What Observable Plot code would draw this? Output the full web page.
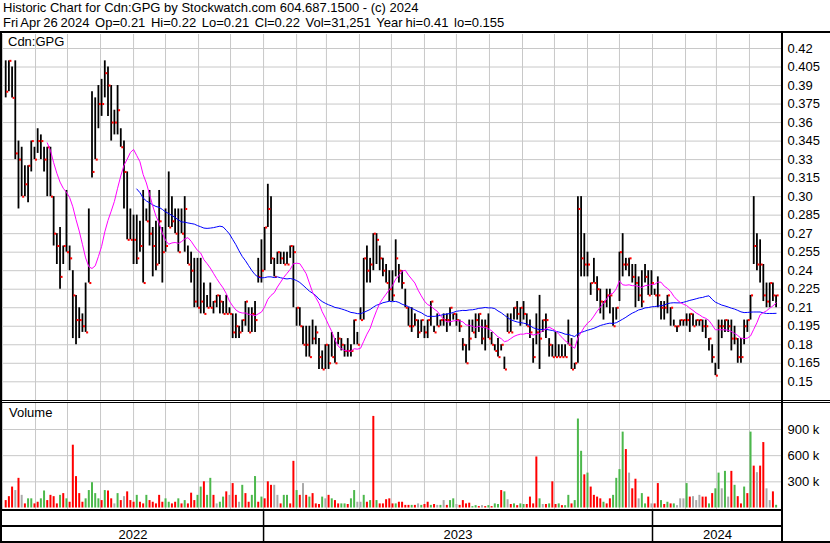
<!DOCTYPE html>
<html><head><meta charset="utf-8">
<script src="https://cdn.jsdelivr.net/npm/d3@7"></script>
<script src="https://cdn.jsdelivr.net/npm/@observablehq/plot@0.6"></script>
<style>
body{margin:0;background:#fff;font-family:"Liberation Sans",Arial,sans-serif;}
#wrap{position:relative;width:830px;height:543px;overflow:hidden;background:#fff}
.ln{position:absolute;background:#000}
.txt{position:absolute;font-size:13px;color:#000;white-space:pre;line-height:15px}
.sub{word-spacing:-0.8px}
.pl{position:absolute;left:0}
.pl svg{display:block;overflow:visible}
</style></head>
<body><div id="wrap"></div>
<script>
const title = "Historic Chart for Cdn:GPG by Stockwatch.com 604.687.1500 - (c) 2024";
const subtitle = "Fri Apr 26 2024  Op=0.21  Hi=0.22  Lo=0.21  Cl=0.22  Vol=31,251  Year hi=0.41  lo=0.155";
const symbolLabel = "Cdn:GPG";
const volumeLabel = "Volume";
const lastDate = "2024-04-26";
const stepDays = 3;
const high = [.41,.41,.405,.41,.345,.34,.325,.325,.345,.34,
 .355,.35,.34,.34,.34,.30,.27,.275,.26,.305,
 .26,.24,.22,.21,.205,.23,.29,.385,.38,.39,
 .395,.41,.405,.39,.37,.39,.355,.345,.32,.29,
 .285,.285,.28,.305,.29,.305,.275,.28,.305,.275,
 .29,.32,.30,.29,.29,.29,.30,.26,.255,.25,
 .25,.25,.23,.22,.23,.215,.22,.22,.215,.22,
 .21,.205,.205,.195,.20,.215,.21,.21,.215,.25,
 .265,.275,.31,.30,.25,.255,.255,.255,.255,.26,
 .26,.21,.21,.195,.195,.195,.20,.195,.185,.175,
 .18,.18,.19,.185,.19,.185,.18,.185,.18,.20,
 .19,.21,.25,.26,.25,.27,.27,.26,.25,.245,
 .24,.24,.265,.245,.24,.225,.21,.21,.205,.20,
 .20,.195,.20,.215,.195,.205,.20,.205,.205,.21,
 .205,.205,.20,.185,.18,.20,.20,.205,.205,.20,
 .20,.205,.19,.18,.185,.18,.17,.205,.205,.21,
 .215,.21,.215,.205,.20,.185,.205,.22,.20,.205,
 .185,.18,.19,.18,.18,.18,.20,.185,.165,.30,
 .30,.27,.255,.23,.25,.235,.225,.215,.225,.225,
 .21,.21,.255,.27,.25,.25,.245,.245,.235,.24,
 .245,.24,.24,.225,.235,.215,.215,.22,.21,.20,
 .195,.20,.20,.205,.205,.205,.20,.20,.20,.20,
 .185,.18,.165,.20,.20,.20,.20,.20,.195,.185,
 .185,.20,.20,.22,.30,.27,.265,.245,.23,.23,
 .23,.22];
const low = [.38,.385,.38,.33,.29,.30,.30,.295,.32,.33,
 .335,.33,.32,.30,.30,.26,.245,.225,.245,.255,
 .24,.185,.18,.185,.19,.19,.23,.315,.33,.355,
 .365,.38,.365,.345,.35,.35,.34,.29,.265,.265,
 .245,.245,.255,.23,.28,.26,.235,.24,.245,.23,
 .255,.275,.275,.27,.255,.27,.255,.245,.23,.21,
 .21,.205,.205,.21,.21,.205,.21,.205,.205,.205,
 .205,.185,.185,.185,.19,.195,.19,.19,.19,.23,
 .23,.24,.275,.245,.235,.245,.245,.245,.245,.25,
 .21,.195,.195,.18,.17,.17,.18,.18,.16,.16,
 .16,.16,.17,.165,.18,.175,.17,.17,.17,.18,
 .18,.20,.20,.23,.23,.24,.245,.24,.235,.23,
 .215,.215,.235,.23,.225,.21,.195,.19,.195,.185,
 .19,.185,.185,.195,.19,.195,.195,.195,.19,.195,
 .20,.195,.19,.175,.165,.175,.19,.185,.19,.18,
 .175,.185,.18,.175,.17,.175,.16,.19,.19,.20,
 .20,.195,.20,.195,.185,.165,.18,.16,.19,.185,
 .17,.17,.17,.17,.17,.17,.18,.16,.16,.165,
 .235,.235,.235,.22,.23,.215,.205,.20,.21,.205,
 .195,.20,.215,.235,.24,.235,.23,.21,.215,.21,
 .23,.22,.22,.22,.21,.20,.20,.205,.195,.195,
 .19,.195,.195,.195,.19,.195,.195,.195,.19,.185,
 .175,.165,.155,.16,.185,.19,.19,.175,.18,.165,
 .165,.18,.19,.20,.245,.24,.23,.215,.21,.21,
 .215,.21];
const close = [.385,.41,.38,.335,.33,.30,.31,.325,.345,.33,
 .345,.345,.33,.34,.30,.27,.26,.235,.26,.255,
 .25,.22,.20,.20,.195,.19,.23,.32,.33,.375,
 .375,.40,.39,.36,.36,.37,.34,.32,.265,.265,
 .265,.25,.26,.23,.28,.27,.26,.245,.28,.255,
 .26,.275,.28,.27,.255,.27,.29,.245,.24,.215,
 .21,.215,.205,.21,.21,.215,.22,.215,.205,.205,
 .205,.19,.195,.19,.20,.215,.19,.205,.20,.235,
 .24,.275,.29,.25,.235,.255,.25,.245,.245,.26,
 .255,.21,.195,.18,.18,.17,.185,.19,.17,.16,
 .18,.165,.17,.165,.185,.18,.175,.175,.175,.20,
 .18,.20,.25,.24,.245,.27,.265,.25,.24,.23,
 .225,.22,.25,.24,.23,.21,.195,.195,.20,.19,
 .20,.19,.20,.215,.19,.195,.20,.20,.20,.21,
 .205,.20,.195,.18,.165,.185,.19,.20,.205,.185,
 .195,.185,.18,.175,.17,.18,.16,.19,.19,.21,
 .205,.21,.205,.195,.19,.17,.19,.185,.20,.20,
 .18,.17,.17,.17,.17,.17,.18,.16,.165,.29,
 .25,.245,.245,.23,.23,.225,.215,.215,.22,.22,
 .195,.21,.255,.245,.245,.25,.235,.23,.22,.215,
 .235,.22,.23,.22,.22,.21,.21,.22,.21,.195,
 .195,.20,.20,.20,.205,.195,.20,.20,.195,.195,
 .185,.17,.155,.195,.195,.20,.195,.185,.185,.17,
 .17,.195,.20,.22,.26,.245,.245,.22,.215,.23,
 .22,.22];
// volume in thousands of shares
const volumeK = [85,130,240,200,340,145,47,105,105,47,
 66,105,195,85,145,130,47,145,165,105,
 66,720,360,165,66,105,200,290,165,105,
 85,200,195,105,47,165,85,130,185,85,
 66,145,66,47,145,85,66,47,145,66,
 105,66,47,66,105,47,85,47,170,85,
 145,240,300,145,340,145,47,66,125,185,
 145,280,145,66,260,165,66,145,360,66,
 125,105,300,260,260,145,47,145,145,47,
 535,200,145,280,145,125,165,47,40,125,
 105,145,105,85,47,47,47,40,105,200,
 66,66,145,66,85,1050,85,47,47,95,
 105,47,47,66,66,30,30,30,30,47,
 30,40,66,30,40,30,30,85,30,85,
 105,40,30,85,47,55,16,27,16,27,
 16,27,16,47,40,200,185,95,40,47,
 27,47,40,40,125,47,585,105,40,40,
 47,300,40,47,27,27,145,47,85,1020,
 650,380,400,240,145,125,105,66,47,105,
 145,340,440,870,670,400,220,330,105,165,
 47,125,47,47,280,85,40,66,47,47,
 27,105,105,280,125,130,85,145,125,125,
 47,165,220,400,220,420,125,420,260,130,
 47,240,165,870,480,405,480,750,220,85,
 185,31];
// u = close up (green), d = close down (red), n = unchanged (grey)
const direction = ("d,d,d,n,d,n,d,u,u,d,d,u,u,d,d,d,d,u,d,u,d,d,d,d,d,u,u,u,u,u,"+
 "d,u,d,d,n,u,d,n,d,d,d,u,d,d,u,d,d,d,d,d,u,u,d,d,u,d,u,d,d,d,"+
 "u,u,d,u,u,d,n,u,u,d,n,d,d,n,u,d,d,u,u,d,u,d,d,d,n,n,d,u,u,d,"+
 "d,u,d,n,d,u,d,d,d,u,n,d,u,d,d,u,u,d,u,u,n,n,u,d,u,d,u,d,d,d,"+
 "d,d,u,d,d,d,d,u,d,n,u,d,d,u,d,n,u,n,d,u,u,n,d,d,d,d,u,u,d,n,"+
 "d,u,d,u,u,d,u,n,d,u,d,u,u,d,d,d,d,u,n,d,u,d,d,u,d,u,u,d,u,u,"+
 "u,d,u,d,d,d,d,u,d,d,u,u,u,u,d,n,d,d,n,u,u,d,n,d,d,u,d,u,d,u,"+
 "n,n,n,u,d,n,n,n,d,d,u,d,u,u,n,u,n,d,u,d,d,u,d,u,d,n,d,d,n,n,d,u").split(",");
const priceTicks = [0.42,0.405,0.39,0.375,0.36,0.345,0.33,0.315,0.30,0.285,0.27,0.255,0.24,0.225,0.21,0.195,0.18,0.165,0.15];
const priceTickLabels = ["0.42","0.405","0.39","0.375","0.36","0.345","0.33","0.315","0.30","0.285","0.27","0.255","0.24","0.225","0.21","0.195","0.18","0.165","0.15"];
const volumeTicks = [300000,600000,900000];
const volumeTickLabels = ["300 k","600 k","900 k"];
const years = ["2022","2023","2024"];

const N = close.length;
const end = new Date(lastDate + "T00:00:00Z");
const bars = close.map((c, i) => ({
  date: d3.utcDay.offset(end, -stepDays * (N - 1 - i)),
  high: high[i], low: low[i], close: c,
  volume: volumeK[i] * 1000, dir: direction[i]
}));

const FONT = '"Liberation Sans", Arial, sans-serif';
const xDomain = [new Date("2022-05-01T00:00:00Z"), new Date("2024-05-02T00:00:00Z")];
const months = d3.utcMonths(xDomain[0], xDomain[1]);
const GRID = "#c8c8c8";
const common = {width: 830, marginLeft: 2, marginRight: 48, marginTop: 0, marginBottom: 0,
  x: {type: "utc", domain: xDomain, axis: null},
  style: {fontFamily: FONT, fontSize: "13px", color: "#000", background: "transparent", overflow: "visible"}};

const pLab = new Map(priceTicks.map((t, i) => [t, priceTickLabels[i]]));
const price = Plot.plot({
  ...common, height: 367,
  y: {domain: [0.13404, 0.43134], axis: null},
  marks: [
    Plot.ruleX(months, {stroke: GRID, strokeOpacity: 1}),
    Plot.ruleY(priceTicks, {stroke: GRID, strokeOpacity: 1}),
    Plot.ruleX(bars, {x: "date", y1: "low", y2: "high", stroke: "#000", strokeWidth: 1.8}),
    Plot.dot(bars, {x: "date", y: "close", symbol: "square", r: 1.15, fill: "#ff0000", stroke: "none", dx: 1.5}),
    Plot.lineY(bars, Plot.windowY({k: 42, anchor: "end", strict: true}, {x: "date", y: "close", stroke: "#0000ff", strokeWidth: 1})),
    Plot.lineY(bars, Plot.windowY({k: 14, anchor: "end", strict: true}, {x: "date", y: "close", stroke: "#ff00ff", strokeWidth: 1})),
    Plot.axisY(priceTicks, {anchor: "right", label: null, tickSize: 0, tickPadding: 5, tickFormat: d => pLab.get(d), fontSize: 13})
  ]
});

const vLab = new Map(volumeTicks.map((t, i) => [t, volumeTickLabels[i]]));
const vol = Plot.plot({
  ...common, height: 106,
  y: {domain: [-17200, 1198000], axis: null},
  color: {domain: ["u", "d", "n"], range: ["#4cb84c", "#ff0000", "#aaaaaa"]},
  marks: [
    Plot.ruleX(months, {stroke: GRID, strokeOpacity: 1}),
    Plot.ruleY(volumeTicks, {stroke: GRID, strokeOpacity: 1}),
    Plot.ruleX(bars, {x: "date", y1: 0, y2: "volume", stroke: "dir", strokeWidth: 2}),
    Plot.axisY(volumeTicks, {anchor: "right", label: null, tickSize: 0, tickPadding: 5, tickFormat: d => vLab.get(d), fontSize: 13})
  ]
});

const yearData = years.map(y => {
  const s = new Date(y + "-01-01T00:00:00Z"), e = new Date((+y + 1) + "-01-01T00:00:00Z");
  const a = Math.max(+s, +xDomain[0]), b = Math.min(+e, +xDomain[1]);
  return {year: y, mid: new Date((a + b) / 2)};
});
const band = Plot.plot({
  ...common, height: 33,
  y: {domain: [0, 1], axis: null},
  marks: [
    Plot.ruleX(d3.utcYears(xDomain[0], xDomain[1]), {stroke: "#000", strokeWidth: 1.5}),
    Plot.text(yearData, {x: "mid", text: "year", frameAnchor: "top", lineAnchor: "middle", dy: 24, fontSize: 13, fill: "#000"})
  ]
});

const wrap = document.getElementById("wrap");
function place(node, top) { const d = document.createElement("div"); d.className = "pl"; d.style.top = top + "px"; d.appendChild(node); wrap.appendChild(d); }
place(price, 34);
place(vol, 403);
place(band, 510);
function line(x, y, w, h) { const d = document.createElement("div"); d.className = "ln"; Object.assign(d.style, {left: x + "px", top: y + "px", width: w + "px", height: h + "px"}); wrap.appendChild(d); }
function txt(s, x, y, cls) { const d = document.createElement("div"); d.className = "txt" + (cls ? " " + cls : ""); d.textContent = s; d.style.left = x + "px"; d.style.top = y + "px"; wrap.appendChild(d); }
line(0, 31, 830, 2);
line(0, 400, 830, 1);
line(0, 402, 830, 1);
line(0, 509, 783, 2);
line(0, 525, 783, 2);
line(0, 541, 830, 2);
line(0, 31, 2, 512);
line(781, 31, 2, 512);
txt(title, 3, 0);
txt(subtitle, 3, 15, "sub");
txt(symbolLabel, 8, 34);
txt(volumeLabel, 9, 405);
</script>
</body></html>
